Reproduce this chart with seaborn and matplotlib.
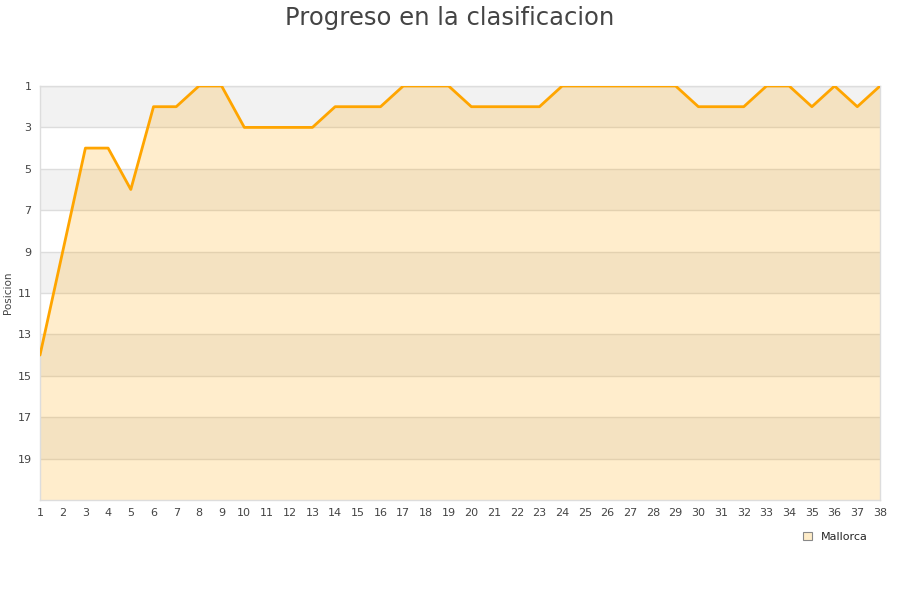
import matplotlib
matplotlib.use("Agg")
import matplotlib.pyplot as plt
import seaborn as sns
import pandas as pd
from matplotlib.patches import Patch

# --- Data ---
jornadas = list(range(1, 39))
posiciones = [14, 9, 4, 4, 6, 2, 2, 1, 1, 3,
              3, 3, 3, 2, 2, 2, 1, 1, 1, 2,
              2, 2, 2, 1, 1, 1, 1, 1, 1, 2,
              2, 2, 1, 1, 2, 1, 2, 1]
equipo = "Mallorca"
y_ticks = list(range(1, 21, 2))

df = pd.DataFrame({"Jornada": jornadas, "Posicion": posiciones})

sns.set_style("white")
plt.rcParams['font.family'] = ['DejaVu Sans']

fig = plt.figure(figsize=(9, 6), dpi=100)
ax = fig.add_axes([40 / 900, 1 - 500 / 600, 840 / 900, 414 / 600])

# alternating background bands
for i, y0 in enumerate(range(1, 21, 2)):
    ax.axhspan(y0, y0 + 2, color='#f2f2f2' if i % 2 == 0 else 'white', zorder=0, lw=0)
for y in y_ticks:
    ax.axhline(y, color='#dddddd', lw=1, zorder=1)

ax.fill_between(df["Jornada"], df["Posicion"], 21, color='orange', alpha=0.2, lw=0, zorder=2)
sns.lineplot(data=df, x="Jornada", y="Posicion", color='#ffa500', lw=2, ax=ax, zorder=3)

ax.set_xlim(1, 38)
ax.set_ylim(21, 1)
ax.set_xticks(jornadas)
ax.set_yticks(y_ticks)
ax.tick_params(labelsize=8, colors='#444444', length=0, pad=6)
ax.set_xlabel("")
ax.set_ylabel("Posicion", fontsize=7.5, color='#444444', labelpad=3)

for s in ax.spines.values():
    s.set_color('#dddddd')
    s.set_linewidth(1)

fig.suptitle("Progreso en la clasificacion", fontsize=17.5, color='#444444', y=0.99)

handle = Patch(facecolor='#feecc8', edgecolor='#888888', lw=0.8)
fig.legend([handle], [equipo], loc='center', bbox_to_anchor=(835 / 900, 1 - 537 / 600),
           frameon=False, fontsize=8, handlelength=0.8, handleheight=0.8, handletextpad=0.8)

fig.savefig("out.png", dpi=100)
